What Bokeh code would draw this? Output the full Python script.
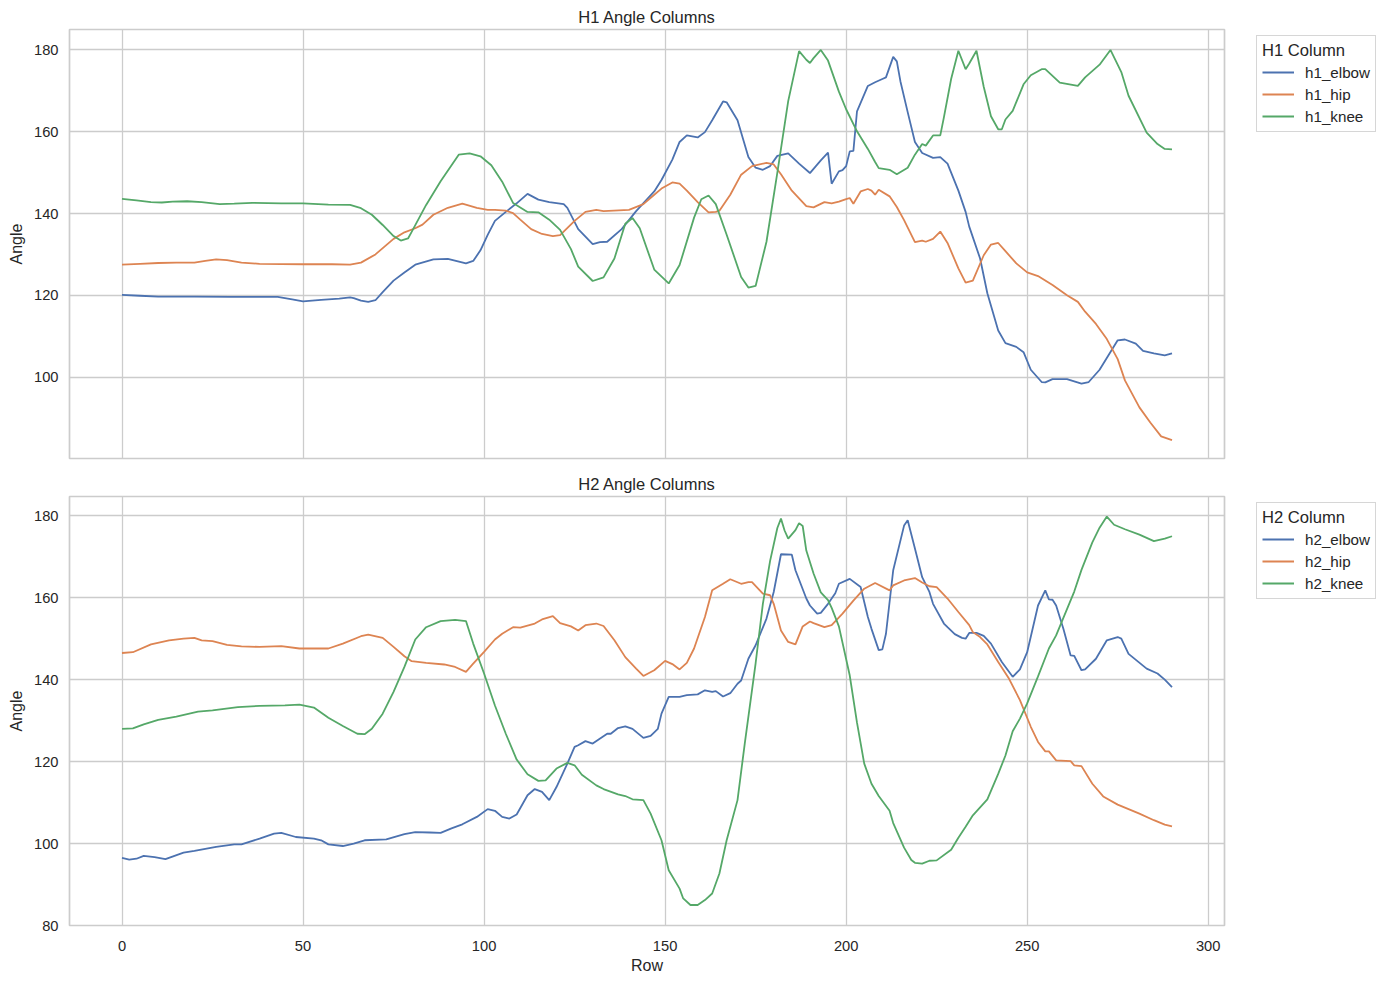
from bokeh.plotting import figure
from bokeh.models import Range1d, Legend, LegendItem, FixedTicker
from bokeh.layouts import column
from bokeh.embed import file_html
from bokeh.resources import INLINE

# ---------------- data ----------------
h1_elbow_rows = [0, 5, 10, 20, 30, 43, 47, 50, 55, 60, 63, 64, 66, 68, 70, 72, 75, 78, 81, 86, 90, 95, 97, 99,
                 101, 103, 106, 109, 112, 115, 118, 122, 123, 126, 130, 132, 134, 138, 142, 147, 149, 152, 154,
                 156, 159, 161, 163, 166, 167, 170, 173, 175, 177, 179, 181, 184, 187, 190, 193, 195, 196, 198,
                 199, 200, 201, 202, 203, 206, 208, 210, 211, 213, 214, 215, 217, 219, 221, 224, 226, 228, 231,
                 233, 234, 237, 239, 242, 244, 247, 249, 251, 254, 255, 257, 261, 265, 267, 270, 275, 277, 280,
                 282, 285, 288, 290]
h1_elbow = [120.1, 119.9, 119.7, 119.7, 119.6, 119.6, 119.0, 118.5, 118.9, 119.2, 119.5, 119.3, 118.7, 118.4,
            118.8, 120.8, 123.6, 125.6, 127.5, 128.8, 128.9, 127.8, 128.4, 131.0, 134.8, 138.2, 140.4, 142.5,
            144.8, 143.4, 142.8, 142.3, 141.4, 136.2, 132.5, 133.0, 133.1, 136.2, 140.6, 145.4, 148.2, 153.2,
            157.5, 159.1, 158.6, 159.9, 162.8, 167.4, 167.2, 162.8, 153.8, 151.2, 150.7, 151.6, 154.1, 154.7,
            152.2, 149.9, 153.0, 154.9, 147.3, 150.3, 150.6, 151.6, 155.2, 155.3, 165.0, 171.2, 172.1, 172.9,
            173.3, 178.3, 177.2, 172.3, 164.8, 157.5, 154.8, 153.6, 153.8, 152.2, 145.6, 140.4, 136.8, 129.0,
            120.5, 111.4, 108.3, 107.4, 106.1, 101.8, 98.8, 98.7, 99.5, 99.5, 98.4, 98.8, 101.8, 109.0, 109.2,
            108.2, 106.4, 105.8, 105.3, 105.8]

h1_hip_rows = [0, 5, 10, 15, 20, 23, 26, 29, 33, 38, 50, 58, 63, 66, 70, 75, 78, 81, 83, 86, 90, 94, 98, 101,
               103, 106, 108, 110, 113, 116, 119, 121, 125, 128, 131, 133, 140, 144, 147, 149, 152, 154, 156, 159,
               162, 164, 165, 168, 171, 174, 178, 180, 182, 185, 189, 191, 194, 196, 198, 200, 201, 202, 204, 206,
               207, 208, 209, 212, 214, 216, 219, 221, 222, 224, 226, 228, 231, 233, 235, 238, 240, 242, 244, 247,
               250, 253, 257, 261, 264, 266, 269, 272, 275, 277, 281, 284, 287, 290]
h1_hip = [127.5, 127.7, 127.9, 128.0, 128.0, 128.4, 128.8, 128.6, 128.0, 127.7, 127.6, 127.6, 127.5, 128.0,
          130.0, 133.8, 135.4, 136.4, 137.3, 139.7, 141.4, 142.4, 141.4, 140.9, 140.9, 140.7, 140.1, 138.5, 136.2,
          135.0, 134.5, 134.7, 138.2, 140.4, 140.9, 140.6, 140.9, 142.3, 144.6, 146.1, 147.6, 147.3, 145.6, 142.8,
          140.3, 140.4, 140.7, 144.6, 149.5, 151.6, 152.4, 152.0, 149.6, 145.6, 141.8, 141.5, 142.8, 142.5, 142.9,
          143.5, 143.8, 142.4, 145.4, 146.0, 145.6, 144.6, 145.8, 144.2, 141.6, 138.4, 133.0, 133.4, 133.1, 133.8,
          135.6, 132.8, 126.6, 123.1, 123.6, 129.8, 132.4, 132.8, 130.8, 127.8, 125.6, 124.7, 122.5, 120.0, 118.4,
          116.0, 113.0, 109.3, 104.4, 99.2, 92.6, 88.9, 85.5, 84.6]

h1_knee_rows = [0, 4, 8, 11, 14, 18, 22, 27, 31, 36, 44, 50, 57, 63, 66, 69, 72, 75, 77, 79, 80, 84, 88, 93, 96,
                99, 102, 105, 108, 112, 115, 118, 121, 124, 126, 130, 133, 136, 139, 141, 143, 147, 151, 154, 158,
                160, 162, 164, 167, 171, 173, 175, 178, 181, 184, 187, 189, 190, 191, 193, 195, 198, 200, 203, 206,
                208, 209, 212, 214, 217, 219, 221, 222, 224, 226, 227, 229, 231, 233, 234, 236, 238, 240, 242, 243,
                244, 246, 249, 251, 254, 255, 259, 264, 266, 270, 273, 276, 278, 283, 286, 288, 290]
h1_knee = [143.6, 143.2, 142.8, 142.7, 142.9, 143.0, 142.8, 142.3, 142.4, 142.6, 142.5, 142.5, 142.2, 142.1,
           141.3, 139.7, 137.2, 134.5, 133.4, 133.9, 135.5, 142.1, 147.9, 154.4, 154.7, 154.0, 151.8, 147.8,
           142.6, 140.4, 140.3, 138.5, 136.0, 131.3, 127.0, 123.5, 124.4, 129.0, 137.5, 138.9, 136.4, 126.3,
           122.9, 127.4, 139.0, 143.5, 144.4, 142.3, 134.8, 124.5, 121.9, 122.3, 133.1, 150.0, 167.5, 179.7,
           177.6, 176.8, 178.0, 180.0, 177.4, 169.8, 165.5, 160.1, 155.8, 152.6, 151.1, 150.7, 149.6, 151.2,
           154.4, 157.0, 156.6, 159.1, 159.1, 163.5, 172.9, 179.8, 175.3, 176.7, 179.8, 171.0, 163.8, 160.6,
           160.6, 163.0, 165.1, 171.6, 173.8, 175.3, 175.3, 172.0, 171.2, 173.3, 176.4, 180.0, 174.6, 168.8,
           159.8, 157.0, 155.8, 155.7]

h2_elbow_rows = [0, 2, 4, 6, 9, 12, 17, 20, 26, 31, 33, 38, 42, 44, 48, 53, 55, 57, 61, 64, 67, 73, 78, 81, 85,
                 88, 91, 94, 98, 101, 103, 105, 107, 109, 112, 114, 116, 118, 120, 123, 125, 126, 128, 130, 134,
                 135, 137, 139, 141, 144, 146, 148, 149, 151, 154, 156, 159, 161, 163, 164, 166, 168, 170, 171,
                 173, 175, 178, 180, 182, 185, 186, 189, 190, 192, 193, 195, 197, 198, 201, 204, 206, 207, 209,
                 210, 211, 213, 216, 217, 219, 221, 223, 224, 227, 228, 230, 232, 233, 234, 236, 238, 240, 243,
                 246, 248, 250, 253, 255, 256, 257, 258, 260, 262, 263, 265, 266, 269, 272, 275, 276, 278, 283,
                 286, 288, 290]
h2_elbow = [96.5, 96.1, 96.3, 97.0, 96.7, 96.2, 97.8, 98.2, 99.2, 99.8, 99.8, 101.2, 102.4, 102.6, 101.6, 101.2,
            100.8, 99.8, 99.4, 100.0, 100.8, 101.0, 102.3, 102.8, 102.7, 102.6, 103.7, 104.7, 106.5, 108.4, 108.0,
            106.5, 106.1, 107.1, 111.8, 113.3, 112.6, 110.6, 113.8, 119.5, 123.6, 124.0, 125.0, 124.4, 126.8,
            126.8, 128.2, 128.6, 128.0, 125.8, 126.3, 128.0, 131.7, 135.8, 135.8, 136.2, 136.4, 137.4, 137.0,
            137.2, 135.9, 136.7, 139.0, 139.8, 145.1, 148.4, 154.9, 161.4, 170.6, 170.5, 166.7, 159.8, 158.1,
            156.1, 156.3, 158.5, 161.1, 163.4, 164.6, 162.6, 155.3, 152.4, 147.2, 147.4, 151.2, 166.7, 177.6,
            178.9, 172.0, 165.0, 161.4, 158.5, 153.7, 152.8, 151.1, 150.2, 150.0, 151.4, 151.4, 150.7, 148.8,
            144.3, 140.7, 142.5, 146.7, 158.1, 161.8, 159.6, 159.5, 158.1, 152.4, 145.9, 145.8, 142.3, 142.5,
            145.1, 149.6, 150.4, 150.0, 146.3, 142.7, 141.5, 140.0, 138.2]

h2_hip_rows = [0, 3, 8, 13, 17, 20, 22, 25, 29, 33, 38, 44, 49, 57, 61, 66, 68, 72, 75, 78, 80, 84, 89, 92, 95,
               97, 100, 103, 105, 108, 110, 114, 116, 119, 121, 124, 126, 128, 131, 133, 136, 139, 142, 144, 147,
               150, 152, 154, 156, 158, 161, 163, 166, 168, 171, 173, 174, 177, 179, 180, 182, 184, 186, 188, 190,
               191, 194, 196, 199, 202, 205, 208, 212, 213, 216, 219, 221, 223, 225, 228, 231, 234, 235, 237, 239,
               242, 245, 248, 251, 253, 255, 256, 258, 262, 263, 265, 268, 271, 275, 281, 285, 288, 290]
h2_hip = [146.5, 146.7, 148.6, 149.6, 150.0, 150.2, 149.6, 149.4, 148.5, 148.1, 148.0, 148.2, 147.6, 147.6,
          148.8, 150.6, 151.0, 150.2, 148.0, 145.7, 144.5, 144.1, 143.7, 143.1, 141.9, 143.9, 146.8, 149.8, 151.2,
          152.8, 152.7, 153.7, 154.7, 155.5, 153.8, 153.0, 152.0, 153.3, 153.7, 153.1, 149.6, 145.5, 142.7, 140.9,
          142.3, 144.6, 143.8, 142.5, 144.1, 147.6, 155.3, 161.8, 163.4, 164.5, 163.4, 163.8, 163.8, 161.0, 160.6,
          158.5, 152.0, 149.2, 148.6, 153.0, 154.2, 153.8, 152.8, 153.3, 156.1, 159.3, 162.2, 163.6, 161.8, 163.0,
          164.2, 164.8, 163.7, 162.8, 162.6, 159.8, 156.5, 153.3, 151.6, 150.4, 148.6, 144.3, 140.2, 135.0, 128.5,
          124.8, 122.5, 122.5, 120.3, 120.1, 119.1, 118.9, 114.6, 111.5, 109.5, 107.3, 105.7, 104.6, 104.2]

h2_knee_rows = [0, 3, 6, 10, 15, 21, 25, 32, 38, 45, 49, 53, 57, 61, 65, 67, 69, 72, 75, 78, 81, 84, 88, 92, 95,
                97, 100, 103, 106, 109, 112, 115, 117, 120, 123, 125, 127, 131, 133, 137, 139, 141, 144, 146, 149,
                151, 154, 155, 157, 159, 161, 163, 165, 167, 170, 172, 175, 177, 179, 181, 182, 183, 184, 186, 187,
                188, 189, 191, 193, 195, 196, 198, 201, 203, 205, 207, 209, 212, 213, 216, 218, 219, 221, 223, 225,
                229, 231, 233, 235, 239, 242, 244, 246, 248, 250, 253, 256, 258, 263, 265, 268, 270, 272, 274, 277,
                281, 285, 288, 290]
h2_knee = [128.0, 128.1, 129.1, 130.2, 131.0, 132.2, 132.5, 133.3, 133.6, 133.7, 133.9, 133.2, 130.7, 128.7,
           126.8, 126.7, 128.0, 131.7, 137.0, 143.1, 149.8, 152.8, 154.3, 154.6, 154.3, 148.8, 141.5, 133.7, 126.8,
           120.5, 116.9, 115.3, 115.4, 118.3, 119.7, 119.1, 116.8, 114.2, 113.3, 112.0, 111.6, 110.8, 110.6, 107.3,
           100.8, 93.5, 89.0, 86.6, 85.0, 85.0, 86.2, 87.8, 92.7, 100.8, 110.6, 124.4, 144.0, 158.5, 169.0, 177.0,
           179.3, 176.4, 174.4, 176.5, 178.2, 177.5, 171.5, 165.9, 161.3, 159.4, 157.5, 153.0, 141.0, 129.5, 119.5,
           114.6, 111.6, 108.0, 105.0, 99.0, 96.0, 95.3, 95.1, 95.8, 95.9, 98.5, 101.4, 104.1, 106.9, 110.8, 117.0,
           121.5, 127.4, 130.5, 134.2, 140.8, 147.6, 150.8, 161.5, 166.8, 173.5, 177.1, 179.8, 177.8, 176.7, 175.4,
           173.8, 174.4, 175.0]

x_ticks = [0, 50, 100, 150, 200, 250, 300]
y_ticks_top = [100, 120, 140, 160, 180]
y_ticks_bottom = [80, 100, 120, 140, 160, 180]

panels = [
    ("H1 Angle Columns", "H1 Column",
     [("h1_elbow", h1_elbow_rows, h1_elbow), ("h1_hip", h1_hip_rows, h1_hip), ("h1_knee", h1_knee_rows, h1_knee)]),
    ("H2 Angle Columns", "H2 Column",
     [("h2_elbow", h2_elbow_rows, h2_elbow), ("h2_hip", h2_hip_rows, h2_hip), ("h2_knee", h2_knee_rows, h2_knee)]),
]

# ---------------- styling ----------------
FONT = "Liberation Sans"
TEXT = "#262626"
GRID = "#cccccc"
COLORS = ["#4C72B0", "#DD8452", "#55A868"]

x_range = Range1d(-14.5, 304.5)


def make_panel(title, legend_title, series, y_range, y_ticks, show_x):
    p = figure(frame_width=1155, frame_height=429,
               x_range=x_range, y_range=Range1d(*y_range),
               output_backend="svg", toolbar_location=None,
               min_border_left=69, min_border_right=161,
               min_border_top=29, min_border_bottom=58 if show_x else 9)
    p.title.text = title
    p.title.align = "center"
    p.title.text_font = FONT
    p.title.text_font_size = "16.5px"
    p.title.text_font_style = "normal"
    p.title.text_color = TEXT
    p.title.standoff = 7

    p.outline_line_color = GRID
    p.outline_line_width = 1.7
    p.background_fill_color = "white"
    p.border_fill_color = "white"

    p.xaxis.ticker = FixedTicker(ticks=x_ticks)
    p.yaxis.ticker = FixedTicker(ticks=y_ticks)
    for ax in (p.xaxis, p.yaxis):
        ax.axis_line_color = None
        ax.major_tick_line_color = None
        ax.minor_tick_line_color = None
        ax.major_tick_out = 0
        ax.major_tick_in = 0
        ax.major_label_text_font = FONT
        ax.major_label_text_font_size = "14.7px"
        ax.major_label_text_color = TEXT
        ax.axis_label_text_font = FONT
        ax.axis_label_text_font_size = "16px"
        ax.axis_label_text_font_style = "normal"
        ax.axis_label_text_color = TEXT
    p.yaxis.axis_label = "Angle"
    p.yaxis.major_label_standoff = 11
    p.yaxis.axis_label_standoff = 6
    if show_x:
        p.xaxis.axis_label = "Row"
        p.xaxis.major_label_standoff = 15
        p.xaxis.axis_label_standoff = 3
    else:
        p.xaxis.visible = False

    p.grid.grid_line_color = GRID
    p.grid.grid_line_width = 1.3

    items = []
    for (name, rows, vals), col in zip(series, COLORS):
        r = p.line(rows, vals, line_color=col, line_width=1.8)
        items.append(LegendItem(label=name, renderers=[r]))

    leg = Legend(items=items, title=legend_title, location=(32, 326))
    leg.title_text_font = FONT
    leg.title_text_font_size = "16.6px"
    leg.title_text_font_style = "normal"
    leg.title_text_color = TEXT
    leg.title_text_align = "center"
    leg.title_standoff = 1
    leg.label_text_font = FONT
    leg.label_text_font_size = "15.2px"
    leg.label_text_color = TEXT
    leg.glyph_width = 32
    leg.glyph_height = 20
    leg.label_height = 20
    leg.label_standoff = 11
    leg.spacing = 2
    leg.padding = 5
    leg.margin = 0
    leg.border_line_color = "#d6d6d6"
    leg.border_line_alpha = 1
    leg.border_line_width = 1
    leg.background_fill_color = "white"
    leg.background_fill_alpha = 1
    p.add_layout(leg, "right")
    return p


p1 = make_panel(panels[0][0], panels[0][1], panels[0][2], (80.1, 185.0), y_ticks_top, False)
p2 = make_panel(panels[1][0], panels[1][1], panels[1][2], (80.0, 184.7), y_ticks_bottom, True)

layout = column(p1, p2, spacing=0)
open("out.html", "w").write(file_html(layout, INLINE))
